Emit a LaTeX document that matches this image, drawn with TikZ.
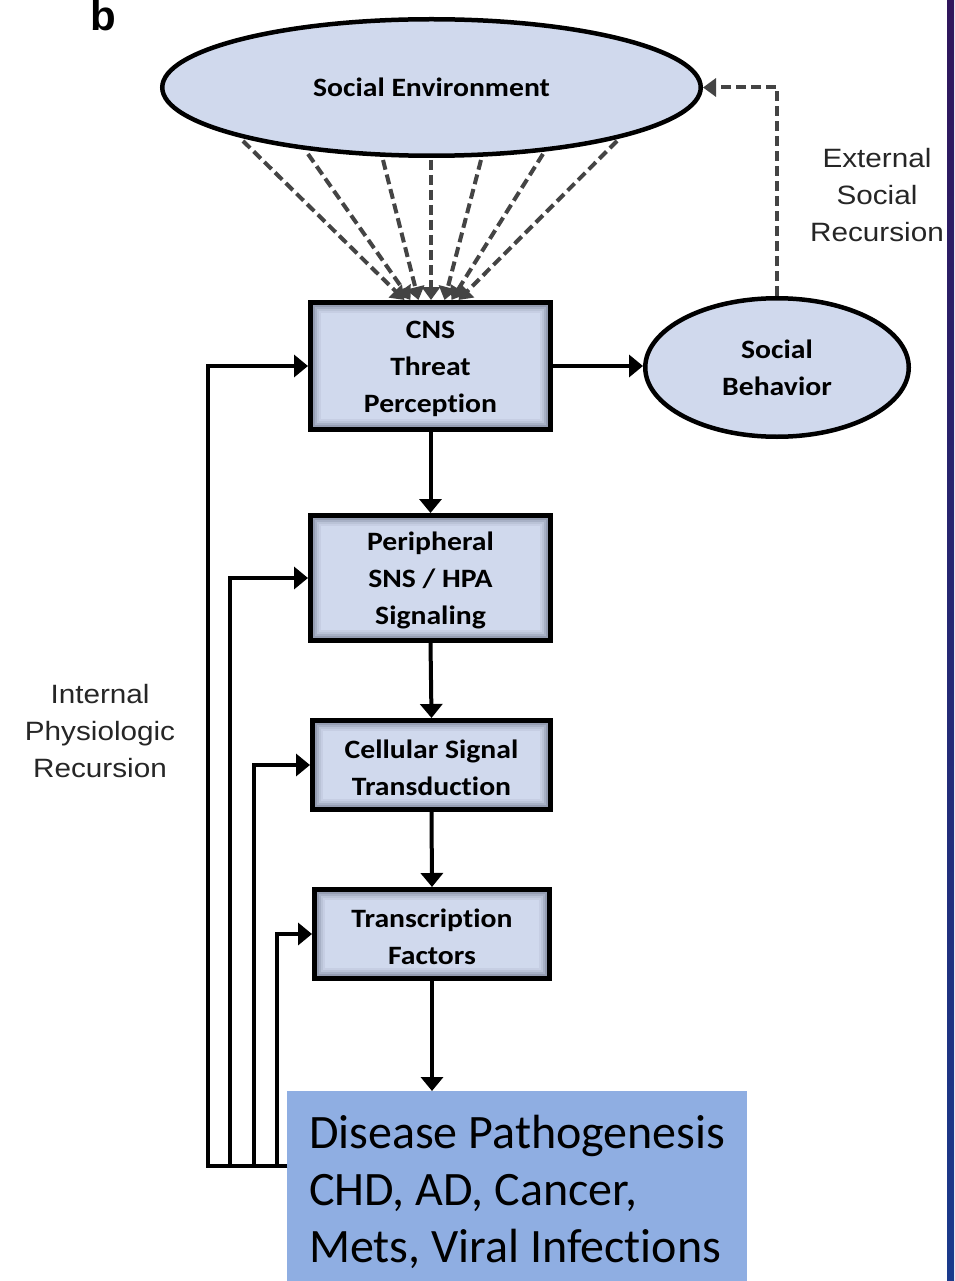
\documentclass[tikz,border=0pt]{standalone}
\usepackage{fontspec}
\setmainfont{Liberation Sans}
\newfontfamily\cfont[FakeStretch=1.12,Ligatures=NoCommon]{Carlito}
\newfontfamily\afont[FakeStretch=1.12]{Liberation Sans}
\newfontfamily\dfont[Ligatures=NoCommon]{Carlito}
\usetikzlibrary{shapes.geometric,arrows.meta,calc}
\newcommand{\toprule}{\rule{0pt}{24pt}}
\definecolor{boxfill}{RGB}{208,217,237}
\definecolor{boxedge}{RGB}{110,118,140}
\definecolor{dashgray}{RGB}{68,68,68}
\definecolor{disfill}{RGB}{143,174,226}
\definecolor{striptop}{RGB}{48,22,92}
\definecolor{stripbot}{RGB}{26,58,140}
\pgfdeclareradialshading{ellglow}{\pgfpoint{0bp}{0bp}}{color(0bp)=(boxfill);color(38bp)=(boxfill);color(50bp)=(boxedge)}
\tikzset{
  boxtext/.style={font=\cfont\bfseries\fontsize{26.5}{37}\selectfont, align=center, text=black},
  stepbox/.style={boxtext, draw=black, line width=5pt, fill=boxfill, inner sep=0pt,
    path picture={
      \foreach \d/\o in {3.5/0.6,5.5/0.4,7.5/0.22,9.5/0.1}{
        \draw[boxedge, line width=2.5pt, opacity=\o]
          ([shift={(\d pt,-\d pt)}]path picture bounding box.north west) rectangle
          ([shift={(-\d pt,\d pt)}]path picture bounding box.south east);}
    }},
  ellbox/.style={boxtext, ellipse, draw=black, line width=4.5pt, shade, shading=ellglow, inner sep=0pt},
  arr/.style={line width=4pt, -{Triangle[length=14pt,width=22pt]}},
  darr/.style={draw=dashgray, line width=4pt, dash pattern=on 10pt off 5pt, -{Triangle[length=13pt,width=18pt,fill=dashgray]}},
  lbl/.style={font=\afont\fontsize{26.5}{37}\selectfont, align=center, text=black!85},
}
\begin{document}
\begin{tikzpicture}[x=1pt,y=-1pt]
\useasboundingbox (0,0) rectangle (954,1281);
\fill[white] (0,0) rectangle (954,1281);
\shade[top color=striptop, bottom color=stripbot] (947,0) rectangle (954,1281);

\node[font=\bfseries\fontsize{42}{42}\selectfont, anchor=base west] (lab) at (87,31) {b};

\node[ellbox, minimum width=538.5pt, minimum height=136.5pt] (socenv) at (431.5,87.5) {Social Environment};
\node[ellbox, minimum width=263.5pt, minimum height=138.5pt] (socbeh) at (777,367.5) {Social\\Behavior};

\node[stepbox, minimum width=240pt, minimum height=127pt] (cns) at (430.5,366) {\toprule CNS\\Threat\\Perception};
\node[stepbox, minimum width=240pt, minimum height=125pt] (per) at (430.5,578) {\toprule Peripheral\\SNS / HPA\\Signaling};
\node[stepbox, minimum width=238pt, minimum height=89pt] (cel) at (431.5,765) {\toprule Cellular Signal\\Transduction};
\node[stepbox, minimum width=235pt, minimum height=89pt] (tf) at (432,934) {\toprule Transcription\\Factors};

\node[fill=disfill, anchor=north west, minimum width=460pt, minimum height=190pt, inner xsep=21pt, inner ysep=0pt,
  align=left, font=\dfont\fontsize{48}{57}\selectfont, text=black] (dis) at (287,1091)
  {\rule{0pt}{44pt}Disease Pathogenesis\\CHD, AD, Cancer,\\Mets, Viral Infections};

\node[lbl] (ext) at (877,195) {External\\Social\\Recursion};
\node[lbl] (int) at (100,731) {Internal\\Physiologic\\Recursion};

% dashed fan
\coordinate (s1) at (243,141);
\coordinate (s2) at (308,154);
\coordinate (s3) at (383,160);
\coordinate (s4) at (431,160);
\coordinate (s5) at (481,160);
\coordinate (s6) at (543,154);
\coordinate (s7) at (617,141);
\draw[darr] (s1) -- ($(cns.north)+(-26,0)$);
\draw[darr] (s2) -- ($(cns.north)+(-20,0)$);
\draw[darr] (s3) -- ($(cns.north)+(-12,0)$);
\draw[darr] (s4) -- ($(cns.north)+(0.5,0)$);
\draw[darr] (s5) -- ($(cns.north)+(14,0)$);
\draw[darr] (s6) -- ($(cns.north)+(21,0)$);
\draw[darr] (s7) -- ($(cns.north)+(28,0)$);

\draw[darr] (socbeh.north) |- (socenv.east);

\draw[arr] (cns.east) -- (cns.east -| socbeh.west);
\draw[arr] (cns.south) -- (per.north);
\draw[arr] (per.south) -- (cel.north);
\draw[arr] (cel.south) -- (tf.north);
\draw[arr] (tf.south) -- (tf.south |- dis.north);

\coordinate (fb) at (287,1166);
\draw[arr] (fb) -- ++(-79,0) |- (cns.west);
\draw[arr] (fb) -- ++(-57,0) |- (per.west);
\draw[arr] (fb) -- ++(-33,0) |- (cel.west);
\draw[arr] (fb) -- ++(-10,0) |- (tf.west);
\end{tikzpicture}
\end{document}
